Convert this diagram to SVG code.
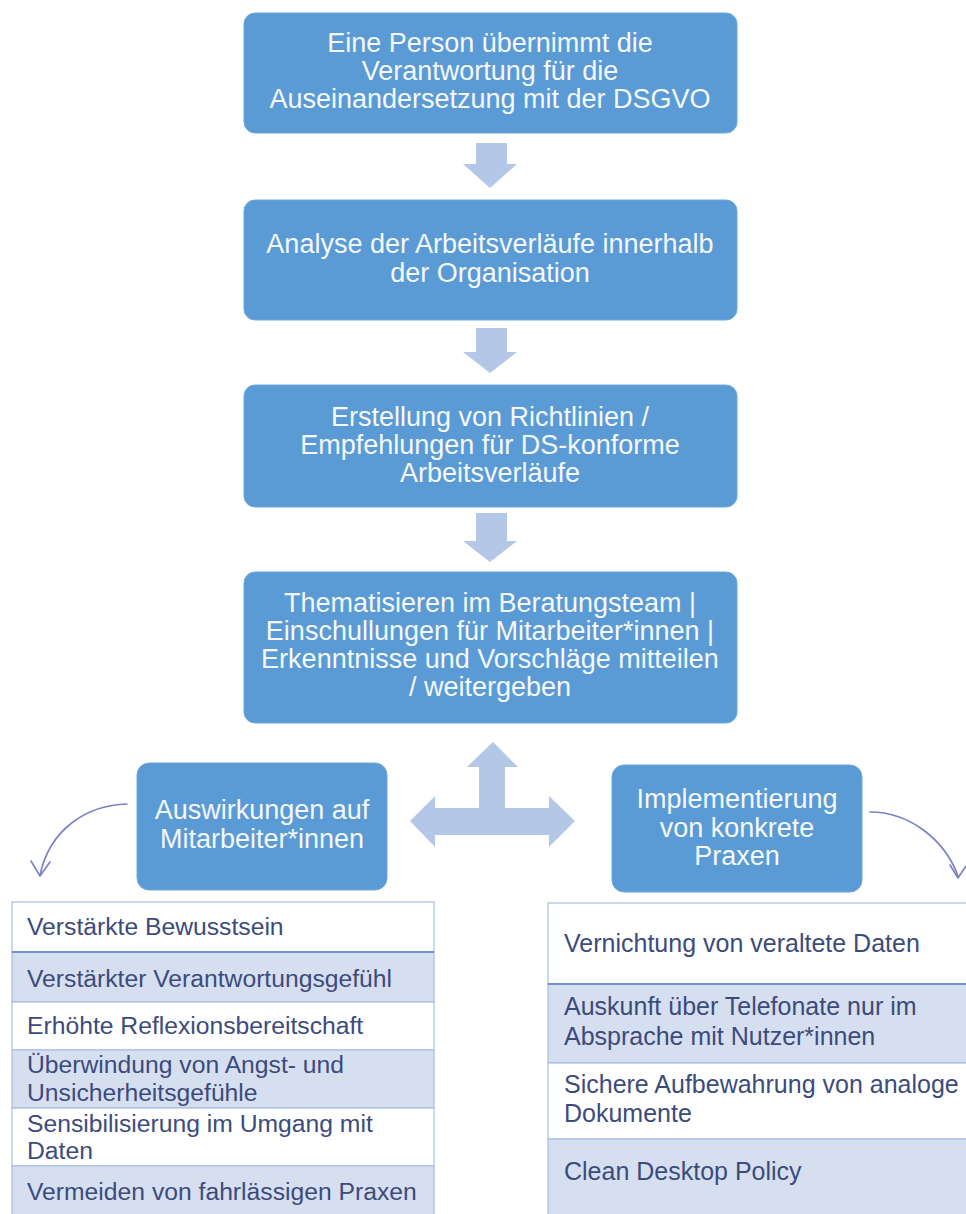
<svg xmlns="http://www.w3.org/2000/svg" width="966" height="1214" viewBox="0 0 966 1214">
<style>
.box{fill:#5b9bd5;stroke:#6fa8dc;stroke-width:1}
.bt{font-family:"Liberation Sans",Arial,sans-serif;font-size:27px;fill:#f5f8fc;text-anchor:middle}
.arr{fill:#b4c7e7}
.curve{fill:none;stroke:#7b80c6;stroke-width:1.6;stroke-linecap:round;stroke-linejoin:round}
.rw{fill:#ffffff;stroke:#aabde2;stroke-width:1.2}
.rb{fill:#d6dff0;stroke:#aabde2;stroke-width:1.2}
.tt{font-family:"Liberation Sans",Arial,sans-serif;font-size:24.7px;fill:#3c4b7c}
.tr{font-family:"Liberation Sans",Arial,sans-serif;font-size:25px;fill:#3c4b7c}
</style>
<rect width="966" height="1214" fill="#ffffff"/>
<g id="connectors">
<polygon class="arr" points="476,143 507,143 507,164 517,164 490,188 463,164 476,164"/>
<polygon class="arr" points="476,328 507,328 507,352 517,352 490,373 463,352 476,352"/>
<polygon class="arr" points="476,513 507,513 507,541 517,541 490,562 463,541 476,541"/>
<polygon class="arr" points="493,742 518,767 505,767 505,808 549,808 549,796 575,821 549,847 549,835 435,835 435,847 410,821 435,796 435,808 479,808 479,767 467,767"/>
<path class="curve" d="M127,804 C88,805 50,828 40,875"/>
<path class="curve" d="M31,861 L40,876 L50,862"/>
<path class="curve" d="M870,812 C908,812 944,838 958,876"/>
<path class="curve" d="M950,865 L958,878 L966,866"/>
</g>
<g id="n1">
<rect class="box" x="244" y="13" width="493" height="120" rx="11"/>
<text class="bt" x="490" y="52">Eine Person übernimmt die</text>
<text class="bt" x="490" y="80">Verantwortung für die</text>
<text class="bt" x="490" y="108">Auseinandersetzung mit der DSGVO</text>
</g>
<g id="n2">
<rect class="box" x="244" y="200" width="493" height="120" rx="11"/>
<text class="bt" x="490" y="253">Analyse der Arbeitsverläufe innerhalb</text>
<text class="bt" x="490" y="282">der Organisation</text>
</g>
<g id="n3">
<rect class="box" x="244" y="385" width="493" height="122" rx="11"/>
<text class="bt" x="490" y="426">Erstellung von Richtlinien /</text>
<text class="bt" x="490" y="454">Empfehlungen für DS-konforme</text>
<text class="bt" x="490" y="482">Arbeitsverläufe</text>
</g>
<g id="n4">
<rect class="box" x="244" y="572" width="493" height="151" rx="11"/>
<text class="bt" x="490" y="612">Thematisieren im Beratungsteam |</text>
<text class="bt" x="490" y="640">Einschullungen für Mitarbeiter*innen |</text>
<text class="bt" x="490" y="668">Erkenntnisse und Vorschläge mitteilen</text>
<text class="bt" x="490" y="696">/ weitergeben</text>
</g>
<g id="n5">
<rect class="box" x="137" y="763" width="250" height="127" rx="12"/>
<text class="bt" x="262" y="819">Auswirkungen auf</text>
<text class="bt" x="262" y="848">Mitarbeiter*innen</text>
</g>
<g id="n6">
<rect class="box" x="612" y="765" width="250" height="127" rx="12"/>
<text class="bt" x="737" y="808">Implementierung</text>
<text class="bt" x="737" y="837">von konkrete</text>
<text class="bt" x="737" y="865">Praxen</text>
</g>
<g id="t1">
<rect class="rw" x="12" y="902" width="422" height="50"/>
<rect class="rb" x="12" y="952" width="422" height="50"/>
<rect class="rw" x="12" y="1002" width="422" height="48"/>
<rect class="rb" x="12" y="1050" width="422" height="58"/>
<rect class="rw" x="12" y="1108" width="422" height="58"/>
<rect class="rb" x="12" y="1166" width="422" height="60"/>
<line x1="12" y1="952" x2="434" y2="952" stroke="#7090d0" stroke-width="2"/>
<text class="tt" x="27" y="935">Verstärkte Bewusstsein</text>
<text class="tt" x="27" y="987">Verstärkter Verantwortungsgefühl</text>
<text class="tt" x="27" y="1034">Erhöhte Reflexionsbereitschaft</text>
<text class="tt" x="27" y="1073">Überwindung von Angst- und</text>
<text class="tt" x="27" y="1101">Unsicherheitsgefühle</text>
<text class="tt" x="27" y="1132">Sensibilisierung im Umgang mit</text>
<text class="tt" x="27" y="1159">Daten</text>
<text class="tt" x="27" y="1200">Vermeiden von fahrlässigen Praxen</text>
</g>
<g id="t2">
<rect class="rw" x="548" y="903" width="430" height="81"/>
<rect class="rb" x="548" y="984" width="430" height="79"/>
<rect class="rw" x="548" y="1063" width="430" height="76"/>
<rect class="rb" x="548" y="1139" width="430" height="87"/>
<line x1="548" y1="984" x2="966" y2="984" stroke="#7090d0" stroke-width="2"/>
<text class="tr" x="564" y="952">Vernichtung von veraltete Daten</text>
<text class="tr" x="564" y="1015">Auskunft über Telefonate nur im</text>
<text class="tr" x="564" y="1045">Absprache mit Nutzer*innen</text>
<text class="tr" x="564" y="1093">Sichere Aufbewahrung von analoge</text>
<text class="tr" x="564" y="1122">Dokumente</text>
<text class="tr" x="564" y="1180">Clean Desktop Policy</text>
</g>
</svg>
